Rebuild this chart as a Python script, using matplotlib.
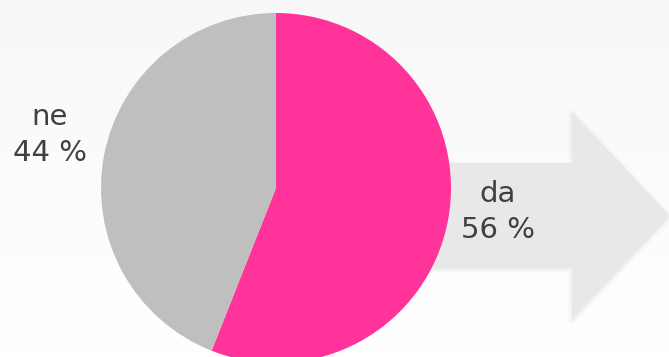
import matplotlib
matplotlib.use("Agg")
import matplotlib.pyplot as plt
from matplotlib.patches import Polygon
import numpy as np

# data
labels = ["da", "ne"]
shares = [56, 44]
colors = ["#ff3399", "#bfbfbf"]

W, H = 669, 357
fig = plt.figure(figsize=(W / 100, H / 100), dpi=100)
ax = fig.add_axes([0, 0, 1, 1])

# background gradient (light grey on top, white at the bottom)
grad = np.linspace(0, 1, 256).reshape(-1, 1)
ax.imshow(grad, cmap=matplotlib.colors.LinearSegmentedColormap.from_list("bg", ["#f8f8f8", "#ffffff"]),
          extent=[0, W, 0, H], aspect="auto", zorder=0)

# big arrow behind the pie, with a soft shadow
arrow = np.array([[430, 194], [572, 194], [572, 245], [669, 142], [572, 39],
                  [572, 90], [430, 90]], dtype=float)
for k, a in zip([6, 4, 2], [0.06, 0.08, 0.1]):
    shadow = arrow.copy()
    shadow[:, 1] -= 2
    ax.add_patch(Polygon(shadow, closed=True, facecolor="#d0d0d0", edgecolor="#d0d0d0",
                         linewidth=k, alpha=a, joinstyle="round", zorder=1))
ax.add_patch(Polygon(arrow, closed=True, facecolor="#e8e8e8", edgecolor="none", zorder=2))

# pie
ax.pie(shares, colors=colors, startangle=90, counterclock=False,
       center=(276, 169), radius=175, wedgeprops=dict(linewidth=0, zorder=3))
for w in ax.patches[-2:]:
    w.set_zorder(3)

ax.set_xlim(0, W)
ax.set_ylim(0, H)
ax.set_aspect("equal")
ax.axis("off")

txt = dict(fontsize=21, color="#404040", ha="center", va="center", family="DejaVu Sans",
           linespacing=1.4, zorder=5)
ax.text(498, 145, f"{labels[0]}\n{shares[0]} %", **txt)
ax.text(50, 222, f"{labels[1]}\n{shares[1]} %", **txt)

fig.savefig("out.png", dpi=100)
